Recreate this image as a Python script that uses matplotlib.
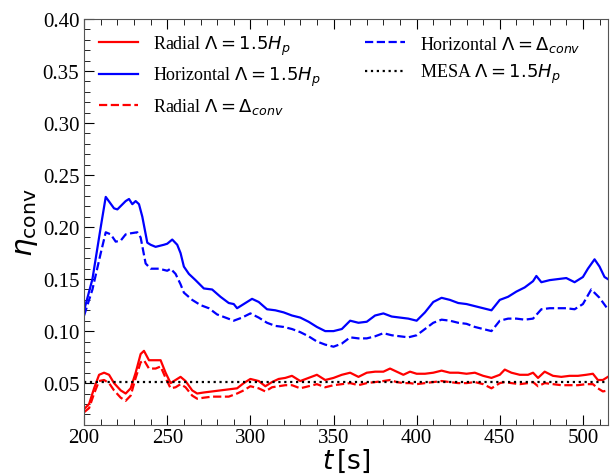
import matplotlib
matplotlib.use('Agg')
import matplotlib.pyplot as plt
from matplotlib.ticker import MultipleLocator

# Horizontal, Lambda = 1.5 Hp (solid blue)
t_hor = [200, 205, 210, 213, 218, 220, 225, 227, 229, 231, 233, 235, 238, 240, 243, 248, 250,
         253, 256, 258, 260, 263, 267, 272, 277, 282, 287, 290, 292, 296, 301, 305, 310, 315,
         320, 325, 330, 335, 340, 345, 350, 355, 360, 365, 370, 375, 380, 385, 390, 395, 400,
         405, 410, 415, 420, 425, 430, 435, 440, 445, 450, 455, 460, 465, 470, 472, 475, 480,
         485, 490, 495, 500, 503, 507, 510, 513, 515]
hor_hp = [0.120, 0.150, 0.200, 0.229, 0.218, 0.217, 0.225, 0.227, 0.222, 0.225, 0.222, 0.210,
          0.185, 0.183, 0.181, 0.183, 0.184, 0.188, 0.183, 0.175, 0.162, 0.155, 0.149, 0.141,
          0.140, 0.133, 0.127, 0.126, 0.122, 0.126, 0.131, 0.128, 0.121, 0.120, 0.118, 0.115,
          0.113, 0.109, 0.104, 0.100, 0.100, 0.102, 0.110, 0.108, 0.109, 0.115, 0.117, 0.114,
          0.113, 0.112, 0.110, 0.118, 0.128, 0.132, 0.130, 0.127, 0.126, 0.124, 0.122, 0.120,
          0.130, 0.133, 0.138, 0.142, 0.148, 0.153, 0.147, 0.149, 0.150, 0.151, 0.147, 0.152,
          0.160, 0.169, 0.162, 0.152, 0.150]

# Horizontal, Lambda = Delta_conv (dashed blue)
t_hor2 = [200, 205, 210, 213, 216, 219, 222, 225, 228, 232, 234, 237, 240, 245, 250, 252, 255,
          258, 260, 265, 270, 275, 280, 285, 290, 295, 300, 305, 310, 315, 320, 325, 330, 335,
          340, 345, 350, 355, 360, 365, 370, 375, 380, 385, 390, 395, 400, 405, 410, 415, 420,
          425, 430, 435, 440, 445, 450, 455, 460, 465, 470, 475, 480, 485, 490, 495, 500, 505,
          510, 515]
hor_dc = [0.115, 0.140, 0.175, 0.195, 0.193, 0.186, 0.187, 0.193, 0.194, 0.195, 0.190, 0.165,
          0.160, 0.160, 0.158, 0.160, 0.155, 0.145, 0.137, 0.130, 0.125, 0.122, 0.116, 0.113,
          0.110, 0.113, 0.117, 0.113, 0.108, 0.105, 0.104, 0.102, 0.099, 0.095, 0.090, 0.087,
          0.085, 0.088, 0.094, 0.093, 0.093, 0.095, 0.098, 0.096, 0.095, 0.094, 0.096, 0.102,
          0.108, 0.111, 0.110, 0.108, 0.107, 0.104, 0.102, 0.100, 0.110, 0.112, 0.112, 0.111,
          0.112, 0.121, 0.122, 0.122, 0.122, 0.121, 0.126, 0.140, 0.132, 0.121]

# Radial runs (solid = 1.5 Hp, dashed = Delta_conv)
t_rad = [200, 203, 206, 209, 212, 215, 218, 222, 225, 228, 231, 234, 236, 239, 243, 246, 249,
         252, 255, 258, 261, 265, 268, 272, 277, 282, 287, 292, 296, 300, 305, 309, 313, 317,
         321, 325, 330, 335, 340, 345, 350, 355, 360, 365, 370, 375, 380, 384, 388, 392, 396,
         400, 405, 410, 415, 420, 425, 430, 435, 440, 445, 450, 453, 457, 462, 467, 470, 473,
         477, 482, 487, 492, 497, 502, 506, 509, 512, 515]
rad_hp = [0.025, 0.030, 0.045, 0.058, 0.060, 0.058, 0.050, 0.043, 0.040, 0.045, 0.060, 0.078,
          0.081, 0.072, 0.072, 0.072, 0.060, 0.050, 0.053, 0.056, 0.052, 0.043, 0.040, 0.041,
          0.042, 0.043, 0.044, 0.045, 0.050, 0.054, 0.052, 0.047, 0.051, 0.054, 0.055, 0.057,
          0.052, 0.055, 0.058, 0.053, 0.055, 0.058, 0.060, 0.056, 0.060, 0.061, 0.061, 0.064,
          0.061, 0.058, 0.061, 0.059, 0.059, 0.060, 0.062, 0.060, 0.060, 0.059, 0.060, 0.057,
          0.055, 0.058, 0.063, 0.060, 0.058, 0.058, 0.060, 0.055, 0.061, 0.057, 0.056, 0.057,
          0.057, 0.058, 0.059, 0.053, 0.053, 0.056]
rad_dc = [0.022, 0.026, 0.040, 0.052, 0.053, 0.050, 0.043, 0.036, 0.033, 0.038, 0.055, 0.070,
          0.072, 0.064, 0.064, 0.066, 0.055, 0.045, 0.046, 0.049, 0.046, 0.038, 0.035, 0.036,
          0.037, 0.037, 0.037, 0.040, 0.043, 0.047, 0.045, 0.042, 0.046, 0.047, 0.048, 0.048,
          0.045, 0.047, 0.049, 0.046, 0.048, 0.049, 0.050, 0.048, 0.050, 0.051, 0.052, 0.053,
          0.051, 0.050, 0.050, 0.049, 0.050, 0.051, 0.052, 0.051, 0.050, 0.050, 0.051, 0.049,
          0.045, 0.050, 0.051, 0.050, 0.049, 0.050, 0.051, 0.047, 0.050, 0.049, 0.048, 0.048,
          0.048, 0.049, 0.049, 0.045, 0.042, 0.043]

# MESA reference value
mesa_t = [200, 515]
mesa_val = 0.051

plt.rcParams['font.family'] = 'Liberation Serif'
plt.rcParams['mathtext.fontset'] = 'dejavusans'

fig = plt.figure(figsize=(6.14, 4.77), dpi=100)
ax = fig.add_axes([0.137, 0.1075, 0.853, 0.8505])

ax.plot(t_rad, rad_hp, color='red', lw=1.6, label=r'Radial $\Lambda = 1.5H_p$')
ax.plot(t_hor, hor_hp, color='blue', lw=1.6, label=r'Horizontal $\Lambda = 1.5H_p$')
ax.plot(t_rad, rad_dc, color='red', lw=1.6, ls='--', label=r'Radial $\Lambda = \Delta_{conv}$')
ax.plot(t_hor2, hor_dc, color='blue', lw=1.6, ls='--', label=r'Horizontal $\Lambda = \Delta_{conv}$')
ax.plot(mesa_t, [mesa_val, mesa_val], color='black', lw=1.6, ls=':', label=r'MESA $\Lambda = 1.5H_p$')

ax.set_xlim(200, 515)
ax.set_ylim(0.01, 0.40)
ax.xaxis.set_major_locator(MultipleLocator(50))
ax.xaxis.set_minor_locator(MultipleLocator(10))
ax.yaxis.set_major_locator(MultipleLocator(0.05))
ax.yaxis.set_minor_locator(MultipleLocator(0.01))
ax.tick_params(which='both', direction='in', top=True, right=False, labelsize=15)
ax.tick_params(which='major', length=7)
ax.tick_params(which='minor', length=4)
ax.tick_params(axis='x', pad=2)
for s in ax.spines.values():
    s.set_color('#555555')

ax.set_xlabel(r'$t\,[\mathrm{s}]$', fontsize=19, labelpad=0)
ax.set_ylabel(r'$\eta_{\mathrm{conv}}$', fontsize=21, labelpad=2)

ax.legend(loc='upper left', ncol=2, frameon=False, fontsize=13, handlelength=2.2,
          columnspacing=2.5, labelspacing=0.45, borderaxespad=0.4)

fig.savefig('out.png', dpi=100)
